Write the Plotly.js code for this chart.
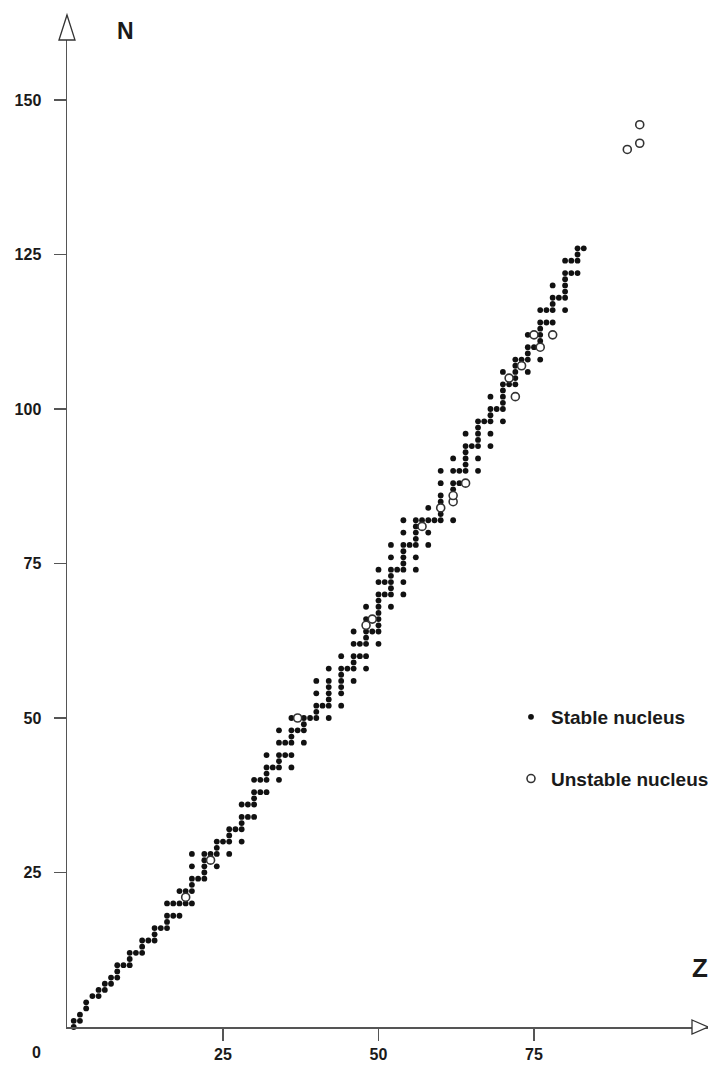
<!DOCTYPE html>
<html>
<head>
<meta charset="utf-8">
<script src="https://cdn.plot.ly/plotly-3.0.1.min.js"></script>
<style>html,body{margin:0;padding:0;background:#fff;}#chart{width:708px;height:1066px;}</style>
</head>
<body>
<div id="chart"></div>
<script>
// Stable nuclei: proton number Z and neutron number N
const stableZ = [
 1,1, 2,2, 3,3, 4, 5,5, 6,6, 7,7, 8,8,8, 9, 10,10,10, 11, 12,12,12, 13, 14,14,14, 15,
 16,16,16,16, 17,17, 18,18,18, 19,19, 20,20,20,20,20,20, 21, 22,22,22,22,22, 23,
 24,24,24,24, 25, 26,26,26,26, 27, 28,28,28,28,28, 29,29, 30,30,30,30,30, 31,31,
 32,32,32,32,32, 33, 34,34,34,34,34,34, 35,35, 36,36,36,36,36,36, 37, 38,38,38,38, 39,
 40,40,40,40,40, 41, 42,42,42,42,42,42,42, 44,44,44,44,44,44,44, 45, 46,46,46,46,46,46,
 47,47, 48,48,48,48,48,48,48, 49, 50,50,50,50,50,50,50,50,50,50, 51,51,
 52,52,52,52,52,52,52,52, 53, 54,54,54,54,54,54,54,54,54, 55, 56,56,56,56,56,56,56, 57,
 58,58,58,58, 59, 60,60,60,60,60,60, 62,62,62,62,62, 63,63, 64,64,64,64,64,64, 65,
 66,66,66,66,66,66,66, 67, 68,68,68,68,68,68, 69, 70,70,70,70,70,70,70, 71,
 72,72,72,72,72, 73, 74,74,74,74,74, 75, 76,76,76,76,76,76, 77,77, 78,78,78,78,78, 79,
 80,80,80,80,80,80,80, 81,81, 82,82,82,82, 83
];
const stableN = [
 0,1, 1,2, 3,4, 5, 5,6, 6,7, 7,8, 8,9,10, 10, 10,11,12, 12, 12,13,14, 14, 14,15,16, 16,
 16,17,18,20, 18,20, 18,20,22, 20,22, 20,22,23,24,26,28, 24, 24,25,26,27,28, 28,
 26,28,29,30, 30, 28,30,31,32, 32, 30,32,33,34,36, 34,36, 34,36,37,38,40, 38,40,
 38,40,41,42,44, 42, 40,42,43,44,46,48, 44,46, 42,44,46,47,48,50, 48, 46,48,49,50, 50,
 50,51,52,54,56, 52, 50,52,53,54,55,56,58, 52,54,55,56,57,58,60, 58, 56,58,59,60,62,64,
 60,62, 58,60,62,63,64,66,68, 64, 62,64,65,66,67,68,69,70,72,74, 70,72,
 68,70,71,72,73,74,76,78, 74, 70,72,74,75,76,77,78,80,82, 78, 74,76,78,79,80,81,82, 82,
 78,80,82,84, 82, 82,83,85,86,88,90, 82,87,88,90,92, 88,90, 90,91,92,93,94,96, 94,
 90,92,94,95,96,97,98, 98, 94,96,98,99,100,102, 100, 98,100,101,102,103,104,106, 104,
 104,105,106,107,108, 108, 106,108,109,110,112, 110, 108,111,112,113,114,116, 114,116, 114,116,117,118,120, 118,
 116,118,119,120,121,122,124, 122,124, 122,124,125,126, 126
];
// Unstable (long-lived) nuclei
const unstableZ = [19, 23, 37, 48, 49, 57, 60, 62, 62, 64, 71, 72, 73, 76, 75, 78, 90, 92, 92];
const unstableN = [21, 27, 50, 65, 66, 81, 84, 85, 86, 88, 105, 102, 107, 110, 112, 112, 142, 143, 146];

const xTickVals = [25, 50, 75];
const xTickText = ['25', '50', '75'];
const yTickVals = [25, 50, 75, 100, 125, 150];
const yTickText = ['25', '50', '75', '100', '125', '150'];
const seriesNames = ['Stable nucleus', 'Unstable nucleus'];

// plot-area geometry (pixels)
const W = 708, H = 1066;
const L = 67, R = 0, T = 15, B = 39;
const pw = W - L - R, ph = H - T - B;
const px = v => (v - L) / pw;          // pixel x -> paper
const py = v => (H - B - v) / ph;      // pixel y -> paper

const FONT = '"Liberation Sans", Arial, Helvetica, sans-serif';

const traces = [
  {
    type: 'scatter', mode: 'markers', name: '<b>' + seriesNames[0] + '</b>',
    x: stableZ, y: stableN, legendgroup: 'a',
    marker: {size: 5.8, color: '#111', line: {width: 0}},
    cliponaxis: false, hoverinfo: 'x+y'
  },
  {
    type: 'scatter', mode: 'markers', name: '<b>' + seriesNames[1] + '</b>',
    x: unstableZ, y: unstableN, legendgroup: 'b',
    marker: {size: 8, color: 'rgba(255,255,255,1)', symbol: 'circle', line: {width: 1.6, color: '#333'}},
    cliponaxis: false, hoverinfo: 'x+y'
  }
];

const arrowUp = `M ${px(59)} ${py(40)} L ${px(67)} ${py(15)} L ${px(75)} ${py(40)} Z`;
const arrowRight = `M ${px(692)} ${py(1020)} L ${px(708)} ${py(1027)} L ${px(692)} ${py(1034)} Z`;

const layout = {
  width: W, height: H,
  margin: {l: L, r: R, t: T, b: B, pad: 0, autoexpand: false},
  paper_bgcolor: '#fff', plot_bgcolor: '#fff',
  showlegend: true,
  legend: {
    x: px(511), y: py(698), xanchor: 'left', yanchor: 'top',
    traceorder: 'grouped', tracegroupgap: 34,
    font: {family: FONT, size: 19, color: '#1a1a1a'},
    bgcolor: 'rgba(0,0,0,0)', itemwidth: 30
  },
  xaxis: {
    range: [-0.08, pw / 6.22 - 0.08],
    showgrid: false, zeroline: false,
    showline: true, linecolor: '#555', linewidth: 1.5,
    ticks: 'outside', ticklen: 12, tickwidth: 1.2, tickcolor: '#555',
    tickvals: xTickVals, ticktext: xTickText,
    ticklabelstandoff: 0, automargin: false,
    tickfont: {family: FONT, size: 16, color: '#1a1a1a', weight: 'bold'}
  },
  yaxis: {
    range: [0, ph / 6.18],
    showgrid: false, zeroline: false,
    showline: true, linecolor: '#555', linewidth: 1.5,
    ticks: 'outside', ticklen: 12, tickwidth: 1.2, tickcolor: '#555',
    tickvals: yTickVals, ticktext: yTickText,
    ticklabelstandoff: 9, automargin: false,
    tickfont: {family: FONT, size: 16, color: '#1a1a1a', weight: 'bold'}
  },
  shapes: [
    {type: 'path', xref: 'paper', yref: 'paper', path: arrowUp, fillcolor: '#fff', line: {color: '#333', width: 1.3}, layer: 'above'},
    {type: 'path', xref: 'paper', yref: 'paper', path: arrowRight, fillcolor: '#fff', line: {color: '#333', width: 1.3}, layer: 'above'}
  ],
  annotations: [
    {xref: 'paper', yref: 'paper', x: px(125), y: py(31), text: '<b>N</b>', showarrow: false,
     xanchor: 'center', yanchor: 'middle', font: {family: FONT, size: 23, color: '#1a1a1a'}},
    {xref: 'paper', yref: 'paper', x: px(690), y: py(968), text: '<b>Z</b>', showarrow: false,
     xanchor: 'left', yanchor: 'middle', font: {family: FONT, size: 26, color: '#1a1a1a'}},
    {xref: 'paper', yref: 'paper', x: px(36), y: py(1052), text: '<b>0</b>', showarrow: false,
     xanchor: 'center', yanchor: 'middle', font: {family: FONT, size: 16, color: '#1a1a1a'}}
  ]
};

Plotly.newPlot('chart', traces, layout, {displayModeBar: false, staticPlot: true});
</script>
</body>
</html>
